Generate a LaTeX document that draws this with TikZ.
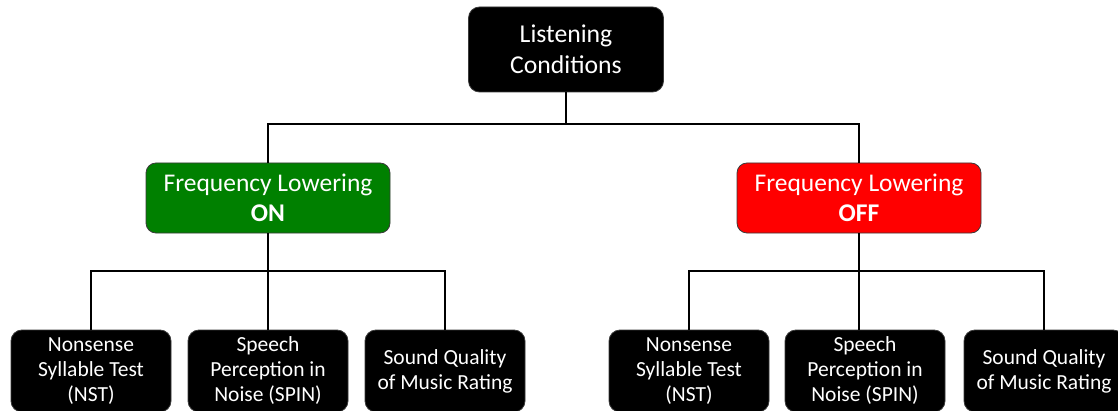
\documentclass[tikz,border=0pt]{standalone}
\usepackage{fontspec}
\setmainfont{Carlito}
\usetikzlibrary{calc}
\definecolor{ongreen}{HTML}{008000}
\definecolor{offred}{HTML}{FF0000}
\definecolor{edge}{HTML}{3A3A3A}

\begin{document}
\begin{tikzpicture}[
  x=1pt,y=1pt,
  wire/.style={draw=black, line width=2pt},
  rootbox/.style={draw=edge, fill=black, text=white, rounded corners=11pt,
    line width=0.8pt, align=center, inner sep=0pt,
    minimum width=195pt, minimum height=85pt,
    font=\fontsize{25.7}{31}\selectfont},
  groupbox/.style={draw=edge, text=white, rounded corners=10pt,
    line width=0.8pt, align=center, inner sep=0pt,
    minimum width=244pt, minimum height=70pt,
    font=\fontsize{25.5}{30}\selectfont},
  testbox/.style={draw=edge, fill=black, text=white, rounded corners=11pt,
    line width=0.8pt, align=center, inner sep=0pt,
    minimum width=160pt, minimum height=82pt,
    font=\fontsize{21.5}{25}\selectfont}
]
\useasboundingbox (0,0) rectangle (1118,410);

% Top of the tree.
\node[rootbox] (root) at (566,360.5) {Listening\\Conditions};

% The two listening conditions.
\node[groupbox, fill=ongreen] (on) at (268,212)
  {Frequency Lowering\\\textbf{ON}};
\node[groupbox, fill=offred] (off) at (859,212)
  {Frequency Lowering\\\textbf{OFF}};

% Tests under each condition.
\node[testbox] (nstL) at (91,39) {Nonsense\\Syllable Test\\(NST)};
\node[testbox] (spinL) at (268,39) {Speech\\Perception in\\Noise (SPIN)};
\node[testbox] (sqmL) at (445,39) {Sound Quality\\of Music Rating};

\node[testbox] (nstR) at (689,39) {Nonsense\\Syllable Test\\(NST)};
\node[testbox] (spinR) at (865,39) {Speech\\Perception in\\Noise (SPIN)};
\node[testbox] (sqmR) at (1044,39) {Sound Quality\\of Music Rating};

% Bus lines.
\coordinate (rootbus) at (566,286);
\coordinate (onbus) at (268,139);
\coordinate (offbus) at (859,139);

\draw[wire] (root.south) -- (rootbus);
\draw[wire] (on.north) |- (rootbus) -| (off.north);

\draw[wire] (on.south) -- (spinL.north);
\draw[wire] (nstL.north) |- (onbus) -| (sqmL.north);

\draw[wire] (off.south) -- (off.south |- spinR.north);
\draw[wire] (nstR.north) |- (offbus) -| (sqmR.north);

\end{tikzpicture}
\end{document}
